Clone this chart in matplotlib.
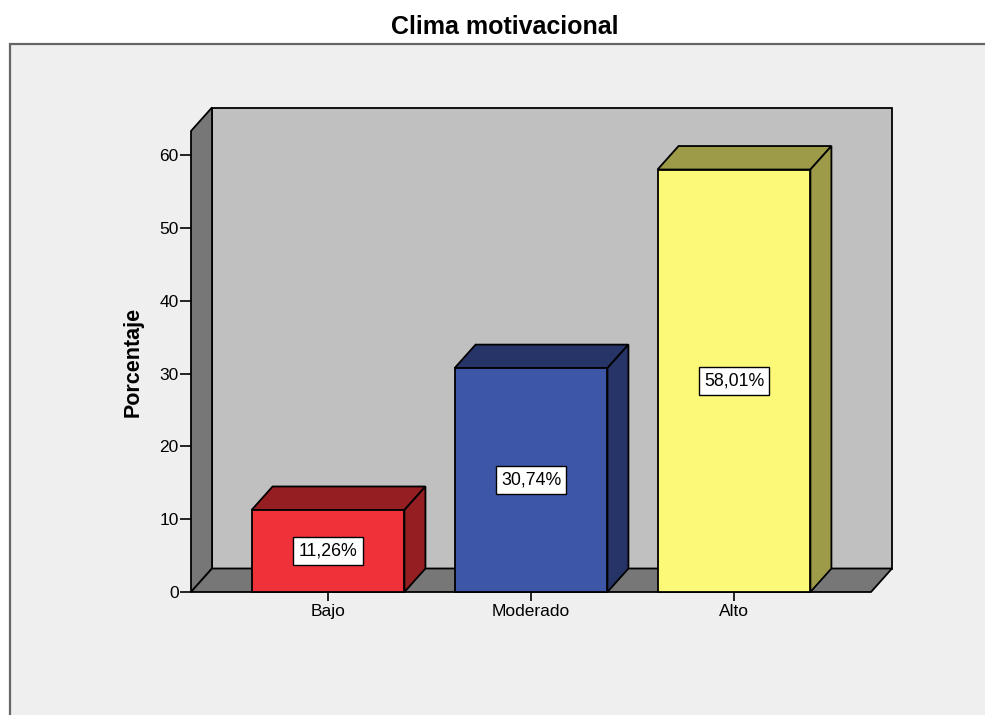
import matplotlib
matplotlib.use("Agg")
import matplotlib.pyplot as plt
from matplotlib.patches import Polygon, Rectangle

categories = ["Bajo", "Moderado", "Alto"]
values = [11.26, 30.74, 58.01]
value_labels = ["11,26%", "30,74%", "58,01%"]
yticks = [0, 10, 20, 30, 40, 50, 60]
title = "Clima motivacional"
ylabel = "Porcentaje"

front_colors = ["#ef3239", "#3e56a8", "#fcf978"]
dark_colors = ["#951e22", "#273468", "#9d9a48"]

plt.rcParams['font.family'] = ['Liberation Sans', 'DejaVu Sans']

W, H = 985, 715
fig = plt.figure(figsize=(W / 100, H / 100), dpi=100)
fig.patch.set_facecolor("white")

# outer panel
fig.patches.append(Rectangle((10 / W, -0.05), 1.2, (H - 44) / H + 0.05,
                             transform=fig.transFigure, facecolor="#efefef",
                             edgecolor="#666666", linewidth=1.6, zorder=-10))

left, right, bottom, top = 191, 871, 592, 131
ax = fig.add_axes([left / W, (H - bottom) / H, (right - left) / W, (bottom - top) / H])
ax.set_zorder(1)
ax.set_facecolor("none")
xl, xr = -0.675, 2.675
ymax = 63.3
ax.set_xlim(xl, xr)
ax.set_ylim(0, ymax)
for s in ax.spines.values():
    s.set_visible(False)

dx = 21 / 203.0
dy = 23.5 / ((bottom - top) / ymax)
lw = 1.3

# back wall
ax.add_patch(Polygon([(xl + dx, dy), (xr + dx, dy), (xr + dx, ymax + dy), (xl + dx, ymax + dy)],
                     closed=True, facecolor="#c0c0c0", edgecolor="black", lw=lw, clip_on=False, zorder=1))
# left wall
ax.add_patch(Polygon([(xl, 0), (xl + dx, dy), (xl + dx, ymax + dy), (xl, ymax)],
                     closed=True, facecolor="#777777", edgecolor="black", lw=lw, clip_on=False, zorder=1))
# floor
ax.add_patch(Polygon([(xl, 0), (xr, 0), (xr + dx, dy), (xl + dx, dy)],
                     closed=True, facecolor="#777777", edgecolor="black", lw=lw, clip_on=False, zorder=1))

bw = 0.753
for i, (v, fc, dc, lab) in enumerate(zip(values, front_colors, dark_colors, value_labels)):
    x0, x1 = i - bw / 2, i + bw / 2
    ax.add_patch(Polygon([(x0, v), (x1, v), (x1 + dx, v + dy), (x0 + dx, v + dy)],
                         closed=True, facecolor=dc, edgecolor="black", lw=lw, clip_on=False, zorder=2))
    ax.add_patch(Polygon([(x1, 0), (x1 + dx, dy), (x1 + dx, v + dy), (x1, v)],
                         closed=True, facecolor=dc, edgecolor="black", lw=lw, clip_on=False, zorder=2))
    ax.add_patch(Rectangle((x0, 0), bw, v, facecolor=fc, edgecolor="black", lw=lw,
                           clip_on=False, zorder=3))
    ax.text(i, v / 2, lab, ha="center", va="center", fontsize=12.8, zorder=4,
            bbox=dict(boxstyle="square,pad=0.3", facecolor="white", edgecolor="black", lw=1.0))

ax.set_yticks(yticks)
ax.set_yticklabels([str(t) for t in yticks])
ax.set_xticks(range(len(categories)))
ax.set_xticklabels(categories)
ax.tick_params(axis="y", direction="out", length=7.9, width=1.2, pad=1, labelsize=12.5, colors="black")
ax.tick_params(axis="x", direction="out", length=6.5, width=1.2, pad=2, labelsize=12.5, colors="black")

fig.text(133 / W, 1 - 362 / H, ylabel, rotation=90, ha="center", va="center",
         fontsize=15.5, fontweight="bold")
fig.text(505 / W, 1 - 27 / H, title, ha="center", va="center", fontsize=18, fontweight="bold")

fig.savefig("out.png", dpi=100)
